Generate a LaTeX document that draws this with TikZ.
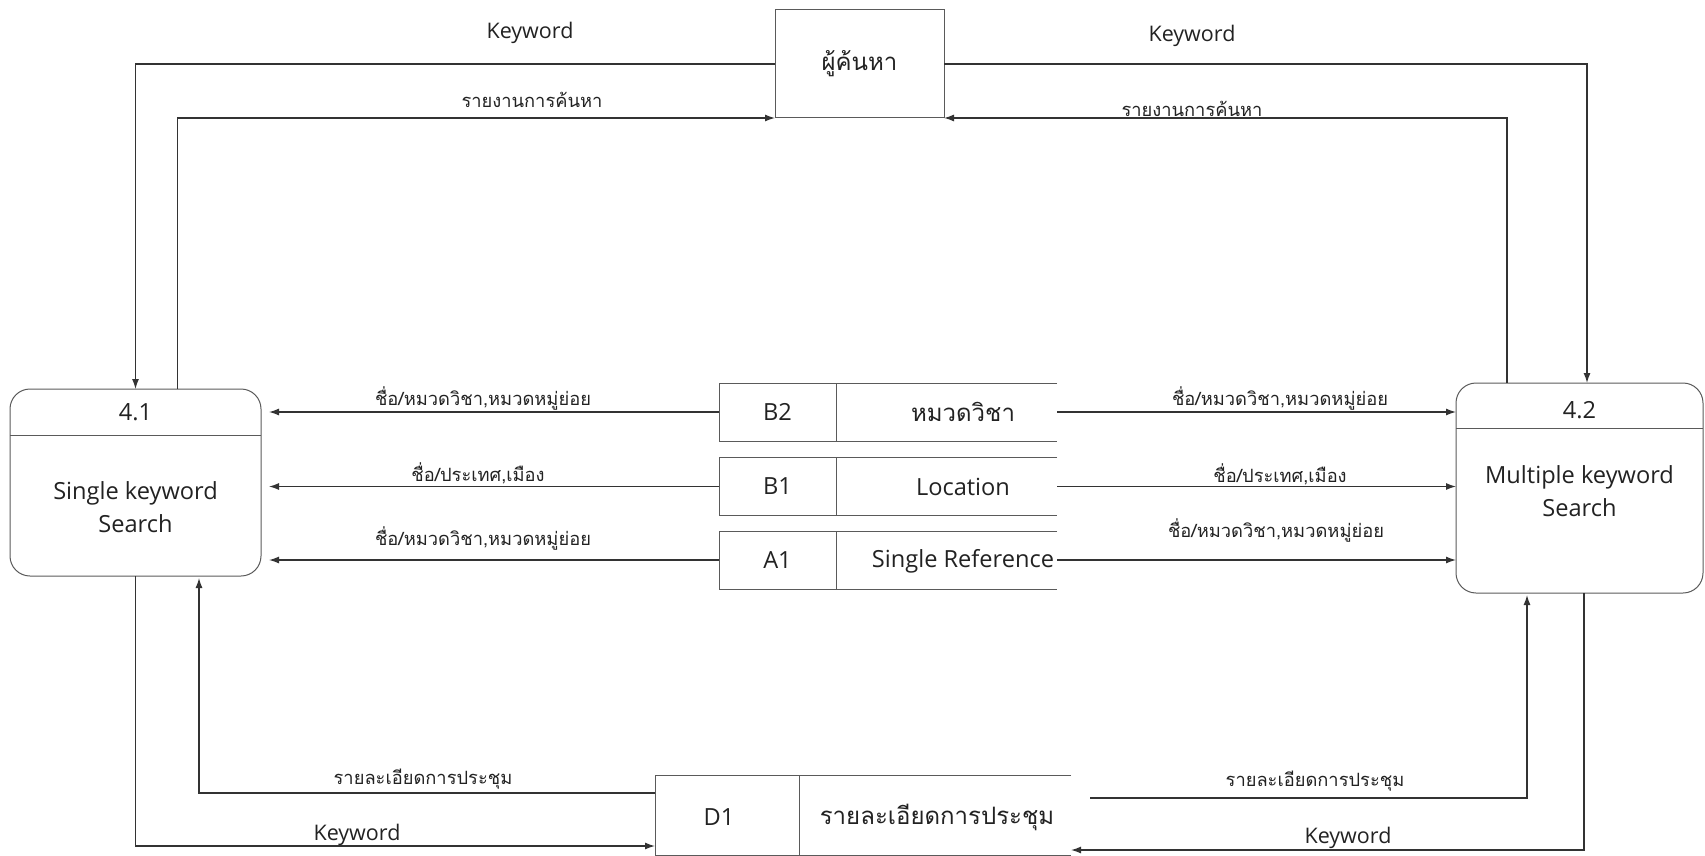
\documentclass[tikz,border=0pt]{standalone}
\usepackage{fontspec}
\setmainfont{Open Sans}
\newfontfamily\thai[Script=Thai]{Loma}
\usetikzlibrary{arrows.meta}
\definecolor{linec}{HTML}{333333}
\definecolor{boxc}{HTML}{5A5A5A}
\definecolor{txt}{HTML}{222222}
\begin{document}
\begin{tikzpicture}[x=1pt,y=-1pt,
  flow/.style={draw=linec, line width=1.3pt, -{Latex[length=10pt,width=7pt]}},
  boxline/.style={draw=boxc, line width=1pt},
  proc/.style={draw=boxc, line width=1pt, rounded corners=20pt, inner sep=0, outer sep=0},
  cell/.style={inner sep=0, outer sep=0},
  lbl/.style={font=\thai\fontsize{18.3}{18.3}\selectfont, text=txt, inner sep=0},
  kw/.style={font=\fontsize{21.5}{21.5}\selectfont, text=txt, inner sep=0},
  big/.style={font=\fontsize{23.6}{23.6}\selectfont, text=txt, inner sep=0},
  bigth/.style={font=\thai\fontsize{24}{24}\selectfont, text=txt, inner sep=0}
]
\useasboundingbox (0,0) rectangle (1705,856);

% external entity
\node[draw=boxc, line width=1pt, cell, minimum width=169pt, minimum height=108pt] (ent) at (859.5,64) {};
\node[bigth] (entt) at (859.5,64) {ผู้ค้นหา};

% process 4.1
\node[proc, minimum width=251pt, minimum height=187pt] (p41) at (135.5,482.5) {};
\draw[boxline] (p41.west |- 0,435) -- (p41.east |- 0,435);
\node[big] (p41n) at (135.5,412) {4.1};
\node[big, align=center] (p41t) at (135.5,507) {Single keyword\\[9pt]Search};

% process 4.2
\node[proc, minimum width=247pt, minimum height=210pt] (p42) at (1579.5,488) {};
\draw[boxline] (p42.west |- 0,428) -- (p42.east |- 0,428);
\node[big] (p42n) at (1579.5,410) {4.2};
\node[big, align=center] (p42t) at (1579.5,491) {Multiple keyword\\[9pt]Search};

% data stores
\foreach \nm/\yc/\id in {b2/412/B2, b1/486.5/B1, a1/560/A1}{
  \node[cell, minimum width=117pt, minimum height=58pt] (\nm id) at (777.5,\yc) {};
  \node[cell, minimum width=221pt, minimum height=58pt] (\nm nm) at (946.5,\yc) {};
  \draw[boxline] (\nm nm.north east) -- (\nm id.north west) -- (\nm id.south west) -- (\nm nm.south east);
  \draw[boxline] (\nm id.north east) -- (\nm id.south east);
  \node[big] (\nm idt) at (777.5,\yc) {\id};
}
\node[bigth] (b2t) at (963,412) {หมวดวิชา};
\node[big] (b1t) at (963,487) {Location};
\node[big] (a1t) at (963,561) {Single Reference};

\node[cell, minimum width=144pt, minimum height=80pt] (d1id) at (727,815) {};
\node[cell, minimum width=272pt, minimum height=80pt] (d1nm) at (935,815) {};
\draw[boxline] (d1nm.north east) -- (d1id.north west) -- (d1id.south west) -- (d1nm.south east);
\draw[boxline] (d1id.north east) -- (d1id.south east);
\node[big] (d1t) at (719,817) {D1};
\node[bigth] (d1nt) at (937,817) {รายละเอียดการประชุม};

% flows with the searcher
\draw[flow] (ent.west) -| (p41.north);
\draw[flow] ([xshift=42pt]p41.north) |- (ent.south west);
\draw[flow] (ent.east) -| ([xshift=7.5pt]p42.north);
\draw[flow] ([xshift=-72.5pt]p42.north) |- (ent.south east);
\node[kw] (k1) at (530,33) {Keyword};
\node[lbl] (r1) at (532,100) {รายงานการค้นหา};
\node[kw] (k2) at (1192,36) {Keyword};
\node[lbl] (r2) at (1192,109) {รายงานการค้นหา};

% flows from the stores
\foreach \nm in {b2,b1,a1}{
  \draw[flow, shorten >=8pt] (\nm id.west) -- (p41.east |- \nm id.west);
  \draw[flow] (\nm nm.east) -- (p42.west |- \nm nm.east);
}
\node[lbl] (l1) at (483,398) {ชื่อ/หมวดวิชา,หมวดหมู่ย่อย};
\node[lbl] (l2) at (478,473) {ชื่อ/ประเทศ,เมือง};
\node[lbl] (l3) at (483,538) {ชื่อ/หมวดวิชา,หมวดหมู่ย่อย};
\node[lbl] (l4) at (1280,398) {ชื่อ/หมวดวิชา,หมวดหมู่ย่อย};
\node[lbl] (l5) at (1280,474) {ชื่อ/ประเทศ,เมือง};
\node[lbl] (l6) at (1276,530) {ชื่อ/หมวดวิชา,หมวดหมู่ย่อย};

% flows with the meeting store
\draw[flow] (p41.south) |- ([yshift=9pt]d1id.south west);
\draw[flow, shorten >=2pt] ([yshift=22pt]d1id.west) -| ([xshift=63.5pt]p41.south);
\coordinate (d1r) at (1090,798);
\draw[flow, shorten >=2pt] (d1r) -| ([xshift=-52.5pt]p42.south);
\draw[flow] ([xshift=4.5pt]p42.south) |- ([yshift=5pt]d1nm.south east);
\node[kw] (k3) at (357,835) {Keyword};
\node[lbl] (r3) at (423,779) {รายละเอียดการประชุม};
\node[lbl] (r4) at (1315,781) {รายละเอียดการประชุม};
\node[kw] (k4) at (1348,838) {Keyword};
\end{tikzpicture}
\end{document}
